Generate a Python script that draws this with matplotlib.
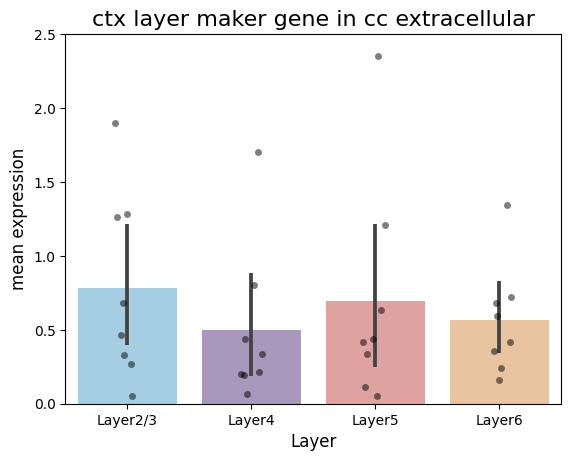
import numpy as np
import matplotlib
matplotlib.use("Agg")
import matplotlib.pyplot as plt

# categories and per-layer sample values
layers = ["Layer2/3", "Layer4", "Layer5", "Layer6"]
values = [
    [1.897, 1.265, 1.285, 0.682, 0.465, 0.327, 0.271, 0.050],
    [1.705, 0.804, 0.440, 0.339, 0.203, 0.194, 0.217, 0.063],
    [2.353, 1.206, 0.632, 0.440, 0.418, 0.337, 0.110, 0.052],
    [1.343, 0.725, 0.682, 0.594, 0.420, 0.354, 0.239, 0.161],
]
# horizontal jitter of each point (category units)
jitter = [
    [-0.097, -0.084, -0.003, -0.035, -0.052, -0.024, 0.029, 0.035],
    [0.056, 0.024, -0.048, 0.089, -0.083, -0.056, 0.062, -0.037],
    [0.024, 0.078, 0.048, -0.016, -0.099, -0.069, -0.081, 0.016],
    [0.060, 0.094, -0.024, -0.016, 0.084, -0.043, 0.016, -0.005],
]
# 95% CI of the mean (bootstrap in the original)
ci_low = [0.395, 0.185, 0.246, 0.341]
ci_high = [1.217, 0.885, 1.213, 0.827]

bar_colors = ["#a6cee3", "#a898bc", "#dea3a0", "#e8c4a0"]

fig, ax = plt.subplots(figsize=(6.4, 4.8), dpi=100)

x = np.arange(len(layers))
means = [np.mean(v) for v in values]
ax.bar(x, means, width=0.8, color=bar_colors, zorder=1)

# error bars
for i in range(len(layers)):
    ax.plot([x[i], x[i]], [ci_low[i], ci_high[i]], color=".26",
            linewidth=2.7, solid_capstyle="butt", zorder=2)

# individual points
for i, v in enumerate(values):
    xs = x[i] + np.array(jitter[i])
    ax.scatter(xs, v, s=25, color="black", alpha=0.5, linewidths=0, zorder=3)

ax.set_xticks(x)
ax.set_xticklabels(layers)
ax.set_xlim(-0.5, len(layers) - 0.5)
ax.set_ylim(0, 2.5)
ax.set_xlabel("Layer", fontsize=12)
ax.set_ylabel("mean expression", fontsize=12)
ax.set_title("ctx layer maker gene in cc extracellular", fontsize=16)

fig.savefig("out.png", dpi=100, bbox_inches="tight")
